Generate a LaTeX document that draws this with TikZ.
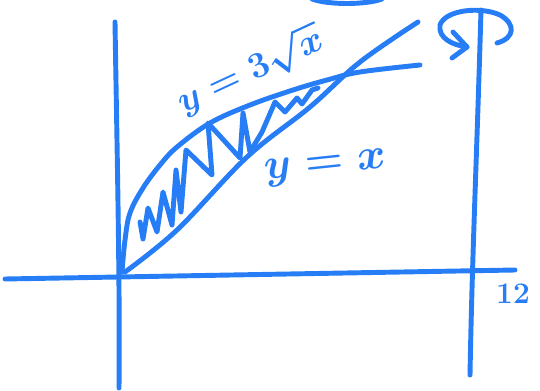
\documentclass[tikz,border=0pt]{standalone}
\usepackage{amsmath}
\definecolor{pen}{RGB}{38,125,245}
\tikzset{
  ink/.style={draw=pen, line width=2.8pt, line cap=round, line join=round},
  inktext/.style={text=pen, inner sep=0pt}
}
\begin{document}
\begin{tikzpicture}[x=0.02cm,y=-0.02cm]
        \useasboundingbox (0,0) rectangle (540,391);
        \clip (0,0) rectangle (540,391);

        % Axes
        \draw[ink] (5,279) -- (515,270);
        \draw[ink] (115,22) .. controls (117,150) and (120,280) .. (119,388);

        % Axis of rotation at x = 12
        \draw[ink] (481,10) .. controls (477,150) and (472,260) .. (470,375);
        \node[inktext, font=\fontsize{17}{20}\selectfont\bfseries] (twelve) at (513,294) {12};

        % Rotation arrow
        \draw[ink] (497,43) .. controls (515,38) and (516,24) .. (500,15)
                   .. controls (480,6) and (445,10) .. (440,25)
                   .. controls (438,38) and (452,45) .. (467,47);
        \draw[ink] (453,32) -- (467,47) -- (452,58);

        % Top edge of a cut-off loop
        \draw[ink] (312,-1) .. controls (328,5) and (366,5) .. (382,-1);

        % Curve y = 3 sqrt(x)
        \draw[ink] plot[smooth, tension=0.6] coordinates {(122,272) (125,240) (130,213) (143,188)
          (160,165) (177,147) (210,123) (250,105) (293,90) (327,80) (360,72) (420,65)};

        % Line y = x
        \draw[ink] plot[smooth, tension=0.6] coordinates {(125,272) (177,230) (247,157)
          (310,107) (360,62) (418,22)};

        % Shaded region (zig-zag)
        \draw[ink] (140,222) -- (143,239) -- (148,208) -- (157,232) -- (163,192)
          -- (172,225) -- (176,170) -- (181,212) -- (186,150) -- (212,175)
          -- (208,123) -- (240,158) -- (243,113) -- (250,152) -- (262,132)
          -- (275,102) -- (285,112) -- (297,98) -- (302,104) -- (312,90) -- (318,88);

        % Labels
        \node[inktext, rotate=25, font=\fontsize{21}{25}\selectfont\boldmath] (upperlabel) at (250,70) {$y=3\sqrt{x}$};
        \node[inktext, rotate=6, font=\fontsize{25}{30}\selectfont\boldmath] (lowerlabel) at (326,168) {$y=x$};
      \end{tikzpicture}
\end{document}
